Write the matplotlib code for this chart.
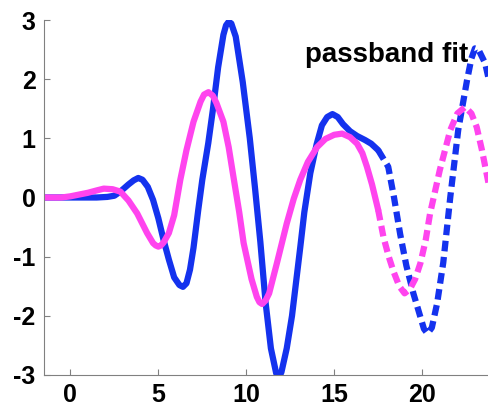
import matplotlib
matplotlib.use("Agg")
import matplotlib.pyplot as plt

# blue trace: solid part, then the dashed extrapolation
blue_x = [-1.5, -0.5, 0.5, 1.5, 2.1, 2.5, 2.84, 3.3, 3.6, 3.86, 4.1, 4.4, 4.7,
          5.0, 5.3, 5.6, 5.9, 6.2, 6.4, 6.6, 6.8, 7.0, 7.27, 7.5, 7.84, 8.1,
          8.4, 8.7, 8.85, 9.0, 9.15, 9.4, 9.8, 10.2, 10.5, 10.8, 11.1, 11.4,
          11.7, 11.85, 12.0, 12.3, 12.6, 13.07, 13.3, 13.64, 14.0, 14.3, 14.6,
          14.9, 15.2, 15.5, 15.9, 16.3, 16.76, 17.1, 17.5]
blue_y = [0.0, 0.0, 0.0, 0.0, 0.01, 0.03, 0.1, 0.22, 0.29, 0.33, 0.3, 0.18, -0.04,
          -0.35, -0.72, -1.05, -1.35, -1.48, -1.51, -1.45, -1.22, -0.85, -0.21,
          0.3, 0.92, 1.48, 2.2, 2.75, 2.91, 2.97, 2.94, 2.72, 1.95, 1.0, 0.15,
          -0.75, -1.78, -2.55, -2.97, -3.05, -2.95, -2.55, -2.0, -0.84, -0.25,
          0.41, 0.9, 1.22, 1.36, 1.41, 1.36, 1.24, 1.12, 1.04, 0.97, 0.91, 0.8]
blue_fit_x = [17.5, 18.07, 18.4, 18.75, 19.1, 19.5, 19.9, 20.1, 20.3, 20.55,
              20.85, 21.2, 21.6, 22.05, 22.55, 22.8, 23.0, 23.2, 23.58, 23.8]
blue_fit_y = [0.8, 0.52, 0.0, -0.62, -1.15, -1.62, -2.02, -2.22, -2.3, -2.2,
              -1.79, -1.1, 0.01, 1.14, 1.98, 2.35, 2.52, 2.5, 2.27, 1.98]

# magenta trace: solid part, then the dashed extrapolation
mag_x = [-1.5, -0.5, 0.0, 1.0, 1.5, 1.9, 2.4, 2.84, 3.3, 3.8, 4.36, 4.7, 4.85,
         5.0, 5.15, 5.3, 5.6, 5.9, 6.25, 6.6, 7.0, 7.4, 7.6, 7.85, 8.1, 8.3,
         8.7, 9.0, 9.27, 9.6, 9.85, 10.3, 10.6, 10.75, 10.9, 11.1, 11.3, 11.75,
         12.3, 12.7, 13.07, 13.5, 14.02, 14.5, 15.0, 15.45, 15.9, 16.3, 16.6,
         16.86, 17.15, 17.5]
mag_y = [0.0, 0.0, 0.02, 0.08, 0.12, 0.15, 0.14, 0.1, -0.05, -0.27, -0.6, -0.77,
         -0.81, -0.83, -0.81, -0.76, -0.6, -0.3, 0.3, 0.8, 1.28, 1.62, 1.74,
         1.78, 1.72, 1.6, 1.28, 0.85, 0.35, -0.25, -0.77, -1.38, -1.68, -1.77,
         -1.8, -1.74, -1.62, -1.1, -0.44, -0.02, 0.3, 0.6, 0.85, 0.99, 1.06,
         1.08, 1.02, 0.91, 0.75, 0.52, 0.22, -0.21]
mag_fit_x = [17.5, 17.8, 18.1, 18.37, 18.7, 19.0, 19.3, 19.6, 19.9, 20.2, 20.45,
             21.0, 21.6, 22.0, 22.44, 22.8, 23.1, 23.4, 23.8]
mag_fit_y = [-0.21, -0.67, -1.0, -1.25, -1.5, -1.62, -1.55, -1.38, -1.11, -0.72,
             -0.27, 0.46, 1.14, 1.42, 1.53, 1.42, 1.19, 0.8, 0.2]

xticks = [0, 5, 10, 15, 20]
yticks = [-3, -2, -1, 0, 1, 2, 3]

blue = "#1432ee"
magenta = "#ff44ee"
dash = (0, (1.7, 0.9))

plt.rcParams["font.family"] = ["Liberation Sans", "DejaVu Sans"]
plt.rcParams["axes.unicode_minus"] = False

fig = plt.figure(figsize=(4.89, 4.12), dpi=100)
ax = fig.add_axes([44 / 489, 37 / 412, 445 / 489, 355 / 412])

ax.plot(blue_x, blue_y, color=blue, lw=4.5, solid_capstyle="round",
        solid_joinstyle="round")
ax.plot(blue_fit_x, blue_fit_y, color=blue, lw=4.5, linestyle=dash)
ax.plot(mag_x, mag_y, color=magenta, lw=4.5, solid_capstyle="round",
        solid_joinstyle="round")
ax.plot(mag_fit_x, mag_fit_y, color=magenta, lw=4.5, linestyle=dash)

ax.text(13.35, 2.41, "passband fit", fontsize=20, fontweight="bold",
        ha="left", va="center")

ax.set_xlim(-1.5, 23.8)
ax.set_ylim(-3, 3)
ax.set_xticks(xticks)
ax.set_yticks(yticks)
ax.tick_params(direction="in", length=4, color="#808080", labelsize=18, pad=6)
for lbl in ax.get_xticklabels() + ax.get_yticklabels():
    lbl.set_fontweight("bold")
for side in ["top", "right"]:
    ax.spines[side].set_visible(False)
for side in ["left", "bottom"]:
    ax.spines[side].set_color("#808080")

plt.savefig("out.png", dpi=100)
